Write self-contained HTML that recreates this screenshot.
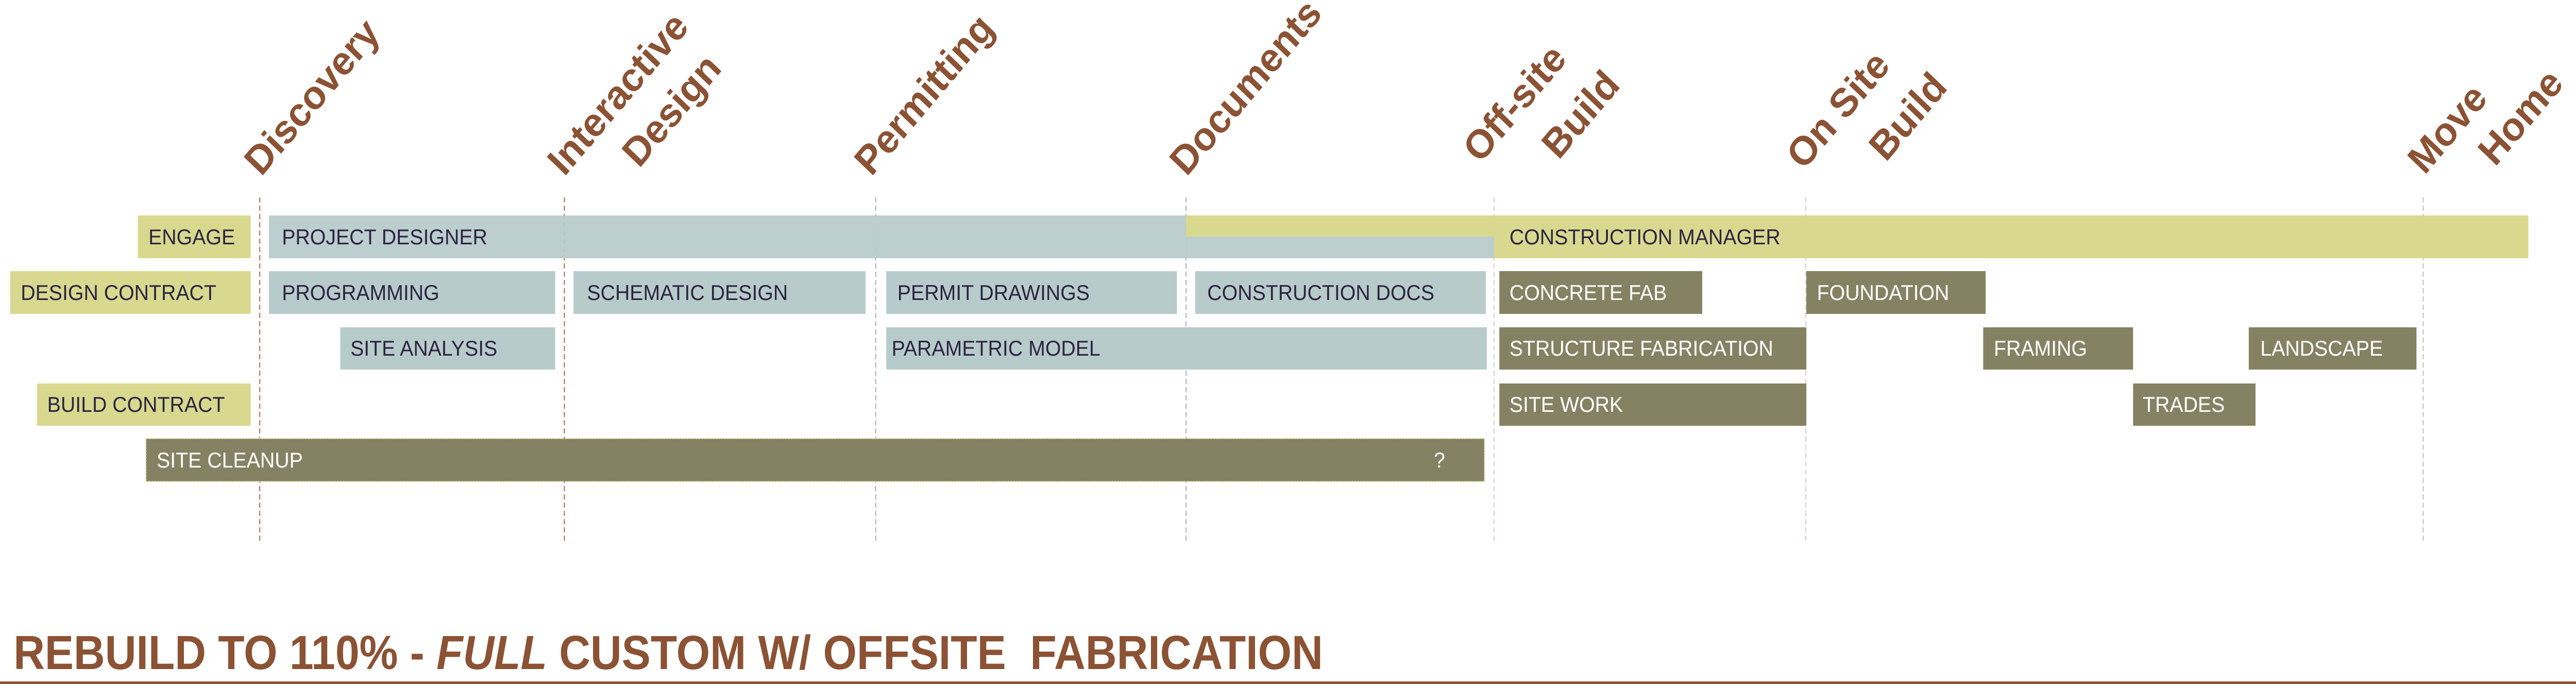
<!DOCTYPE html>
<html><head><meta charset="utf-8"><style>
html,body{margin:0;padding:0;background:#fff;overflow:hidden;}
svg{display:block;}
.b{font-family:"Liberation Sans",sans-serif;font-size:42px;}
.d{fill:#2c2440;}
.w{fill:#fff;}
.ph{font-family:"Liberation Sans",sans-serif;font-size:78px;font-weight:bold;fill:#8b5234;}
</style></head><body>
<svg width="5000" height="1327" viewBox="0 0 5345 1327" preserveAspectRatio="none" xmlns="http://www.w3.org/2000/svg">
<g stroke-width="2" stroke-dasharray="10,6">
<line x1="539" y1="383" x2="539" y2="1050" stroke="#b0603f"/>
<line x1="1171" y1="383" x2="1171" y2="1050" stroke="#b0603f"/>
<line x1="1817" y1="383" x2="1817" y2="1050" stroke="#aaa"/>
<line x1="2461" y1="383" x2="2461" y2="1050" stroke="#aaa"/>
<line x1="3100" y1="383" x2="3100" y2="1050" stroke="#d8c8c8"/>
<line x1="3747" y1="383" x2="3747" y2="1050" stroke="#d8c8c8"/>
<line x1="5028" y1="383" x2="5028" y2="1050" stroke="#bbb"/>
</g>
<rect x="286" y="418" width="234" height="83" fill="#d8d98f"/>
<rect x="558" y="418" width="2542" height="83" fill="#b8cbcb" opacity="0.95"/>
<rect x="2461" y="418" width="639" height="41" fill="#d8d98f"/>
<rect x="3100" y="418" width="2146" height="83" fill="#d8d98f"/>
<rect x="21" y="526" width="499" height="83" fill="#d8d98f"/>
<rect x="558" y="526" width="594" height="83" fill="#b8cbcb"/>
<rect x="1190" y="526" width="606" height="83" fill="#b8cbcb"/>
<rect x="1839" y="526" width="603" height="83" fill="#b8cbcb"/>
<rect x="2480" y="526" width="603" height="83" fill="#b8cbcb"/>
<rect x="3111" y="526" width="421" height="83" fill="#858263"/>
<rect x="3748" y="526" width="372" height="83" fill="#858263"/>
<rect x="706" y="635" width="446" height="82" fill="#b8cbcb"/>
<rect x="1839" y="635" width="1246" height="82" fill="#b8cbcb"/>
<rect x="3111" y="635" width="637" height="82" fill="#858263"/>
<rect x="4115" y="635" width="311" height="82" fill="#858263"/>
<rect x="4666" y="635" width="348" height="82" fill="#858263"/>
<rect x="77" y="744" width="443" height="82" fill="#d8d98f"/>
<rect x="3111" y="744" width="637" height="82" fill="#858263"/>
<rect x="4426" y="744" width="254" height="82" fill="#858263"/>
<rect x="303" y="851" width="2777" height="83" fill="#858263" stroke="#d8d98f" stroke-width="2" stroke-dasharray="3,3"/>

<g class="b">
<text class="d" x="308" y="474">ENGAGE</text>
<text class="d" x="585" y="474">PROJECT DESIGNER</text>
<text class="d" x="3132" y="474">CONSTRUCTION MANAGER</text>
<text class="d" x="43" y="582">DESIGN CONTRACT</text>
<text class="d" x="585" y="582">PROGRAMMING</text>
<text class="d" x="1218" y="582">SCHEMATIC DESIGN</text>
<text class="d" x="1862" y="582">PERMIT DRAWINGS</text>
<text class="d" x="2505" y="582">CONSTRUCTION DOCS</text>
<text class="w" x="3132" y="582">CONCRETE FAB</text>
<text class="w" x="3770" y="582">FOUNDATION</text>
<text class="d" x="727" y="690">SITE ANALYSIS</text>
<text class="d" x="1850" y="690">PARAMETRIC MODEL</text>
<text class="w" x="3132" y="690">STRUCTURE FABRICATION</text>
<text class="w" x="4137" y="690">FRAMING</text>
<text class="w" x="4690" y="690">LANDSCAPE</text>
<text class="d" x="98" y="799">BUILD CONTRACT</text>
<text class="w" x="3132" y="799">SITE WORK</text>
<text class="w" x="4446" y="799">TRADES</text>
<text class="w" x="325" y="907">SITE CLEANUP</text>
<text class="w" x="2975" y="907">?</text>
</g>

<g class="ph">
<text transform="translate(542,344) rotate(-48)">Discovery</text>
<text transform="translate(1171,344) rotate(-48)">Interactive</text>
<text transform="translate(1326,328) rotate(-48)">Design</text>
<text transform="translate(1808,344) rotate(-48)">Permitting</text>
<text transform="translate(2462,344) rotate(-48)">Documents</text>
<text transform="translate(3071,319) rotate(-48)">Off-site</text>
<text transform="translate(3234,312) rotate(-48)">Build</text>
<text transform="translate(3742,332) rotate(-48)">On Site</text>
<text transform="translate(3913,316) rotate(-48)">Build</text>
<text transform="translate(5031,341) rotate(-48)">Move</text>
<text transform="translate(5177,325) rotate(-48)">Home</text>
</g>

<text x="28" y="1298" font-family="Liberation Sans, sans-serif" font-size="93" font-weight="bold" fill="#8b5234" textLength="2717" lengthAdjust="spacingAndGlyphs" xml:space="preserve">REBUILD TO 110% - <tspan font-style="italic">FULL</tspan> CUSTOM W/ OFFSITE  FABRICATION</text>
<rect x="0" y="1322" width="5345" height="5" fill="#8b5234"/>
</svg>
</body></html>
